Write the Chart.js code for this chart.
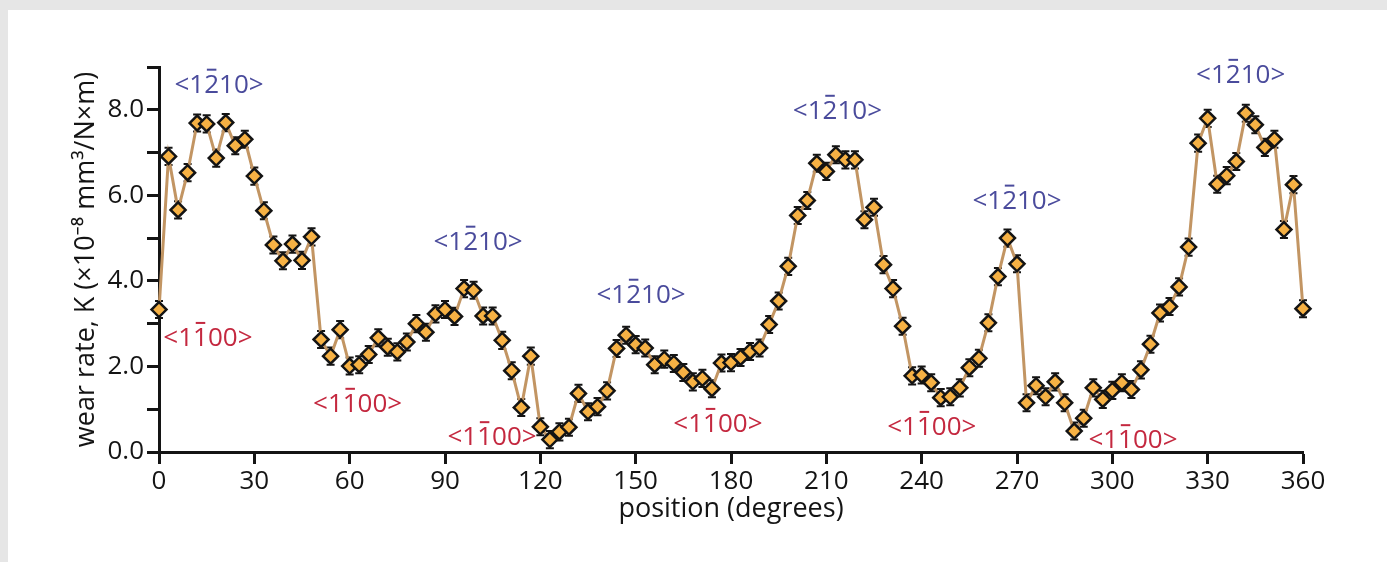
<!DOCTYPE html>
<html>
<head>
<meta charset="utf-8">
<script src="https://cdn.jsdelivr.net/npm/chart.js@4.4.1/dist/chart.umd.min.js"></script>
<style>
  html, body { margin: 0; padding: 0; }
  body { width: 1387px; height: 562px; background: #e6e6e6; position: relative; overflow: hidden; }
  #panel { position: absolute; left: 8px; top: 10px; right: 0; bottom: 0; background: #fff; }
  #wearChart { position: absolute; left: 0; top: 0; }
</style>
</head>
<body>
<div id="panel"></div>
<canvas id="wearChart" width="1387" height="562"></canvas>
<script>
/**
 * Wear rate vs. angular position
 */

// Angular positions (degrees)
const positions = [
  0, 3, 6, 9, 12, 15, 18, 21, 24, 27,
  30, 33, 36, 39, 42, 45, 48, 51, 54, 57,
  60, 63, 66, 69, 72, 75, 78, 81, 84, 87,
  90, 93, 96, 99, 102, 105, 108, 111, 114, 117,
  120, 123, 126, 129, 132, 135, 138, 141, 144, 147,
  150, 153, 156, 159, 162, 165, 168, 171, 174, 177,
  180, 183, 186, 189, 192, 195, 198, 201, 204, 207,
  210, 213, 216, 219, 222, 225, 228, 231, 234, 237,
  240, 243, 246, 249, 252, 255, 258, 261, 264, 267,
  270, 273, 276, 279, 282, 285, 288, 291, 294, 297,
  300, 303, 306, 309, 312, 315, 318, 321, 324, 327,
  330, 333, 336, 339, 342, 345, 348, 351, 354, 357,
  360
];

// Wear rate K (x10^-8 mm3/N·m)
const wearRate = [
  3.33, 6.91, 5.66, 6.53, 7.69, 7.67, 6.87, 7.70, 7.16, 7.31,
  6.45, 5.64, 4.84, 4.47, 4.86, 4.48, 5.03, 2.63, 2.24, 2.86,
  2.01, 2.04, 2.28, 2.67, 2.45, 2.34, 2.57, 3.00, 2.80, 3.23,
  3.33, 3.17, 3.82, 3.78, 3.18, 3.18, 2.61, 1.90, 1.04, 2.24,
  0.59, 0.29, 0.47, 0.58, 1.37, 0.94, 1.06, 1.43, 2.42, 2.73,
  2.51, 2.43, 2.04, 2.17, 2.07, 1.86, 1.64, 1.72, 1.48, 2.08,
  2.09, 2.21, 2.35, 2.43, 2.98, 3.53, 4.34, 5.53, 5.88, 6.75,
  6.56, 6.95, 6.83, 6.83, 5.43, 5.72, 4.38, 3.82, 2.94, 1.78,
  1.80, 1.62, 1.27, 1.29, 1.50, 1.97, 2.19, 3.02, 4.10, 5.00,
  4.40, 1.15, 1.55, 1.29, 1.64, 1.15, 0.49, 0.79, 1.50, 1.23,
  1.44, 1.62, 1.46, 1.92, 2.52, 3.25, 3.40, 3.86, 4.79, 7.22,
  7.80, 6.26, 6.46, 6.79, 7.92, 7.65, 7.12, 7.31, 5.20, 6.25,
  3.35
];

// Error bar half height (same for every point)
const wearError = 0.2;

// Axis ticks
const xTicks = [0, 30, 60, 90, 120, 150, 180, 210, 240, 270, 300, 330, 360];
const yTicks = [0, 1, 2, 3, 4, 5, 6, 7, 8, 9];

// Direction labels: [position, wear rate] of label centre
const blueLabelPos = [[18.9, 8.61], [100.4, 4.94], [151.7, 3.70], [213.5, 8.0], [270.0, 5.9], [340.4, 8.84]];
const redLabelPos = [[15.4, 2.69], [62.5, 1.15], [104.8, 0.37], [175.9, 0.68], [243.2, 0.61], [306.5, 0.30]];

const COLORS = {
  line: '#c29563',
  marker: '#f6b144',
  ink: '#141414',
  blue: '#4a4b9c',
  red: '#c4283f'
};
const FONT = '"Open Sans", "Noto Sans", sans-serif';

/**
 * Error bars (drawn under the line and markers)
 */
const errorBarPlugin = {
  id: 'errorBars',
  beforeDatasetsDraw(chart) {
    const { ctx, scales: { x, y } } = chart;
    ctx.save();
    ctx.strokeStyle = COLORS.ink;
    ctx.lineWidth = 2;
    positions.forEach((p, i) => {
      const px = x.getPixelForValue(p);
      const top = y.getPixelForValue(wearRate[i] + wearError);
      const bot = y.getPixelForValue(wearRate[i] - wearError);
      ctx.beginPath();
      ctx.moveTo(px, top);
      ctx.lineTo(px, bot);
      ctx.moveTo(px - 4, top);
      ctx.lineTo(px + 4, top);
      ctx.moveTo(px - 4, bot);
      ctx.lineTo(px + 4, bot);
      ctx.stroke();
    });
    ctx.restore();
  }
};

/**
 * Draw a Miller index label with an overbar on one digit
 */
function drawMillerLabel(ctx, px, py, text, barIndex, color) {
  const w = ctx.measureText(text).width;
  const left = px - w / 2;
  const base = py + 9;
  ctx.fillStyle = color;
  ctx.fillText(text, left, base);
  const pre = ctx.measureText(text.slice(0, barIndex)).width;
  const cw = ctx.measureText(text[barIndex]).width;
  ctx.fillRect(left + pre + cw * 0.18, base - 24, cw * 0.64, 2);
}

const directionLabelPlugin = {
  id: 'directionLabels',
  afterDatasetsDraw(chart) {
    const { ctx, scales: { x, y } } = chart;
    ctx.save();
    ctx.font = '26px ' + FONT;
    ctx.textAlign = 'left';
    ctx.textBaseline = 'alphabetic';
    blueLabelPos.forEach(([p, v]) => {
      drawMillerLabel(ctx, x.getPixelForValue(p), y.getPixelForValue(v), '<1210>', 2, COLORS.blue);
    });
    redLabelPos.forEach(([p, v]) => {
      drawMillerLabel(ctx, x.getPixelForValue(p), y.getPixelForValue(v), '<1100>', 2, COLORS.red);
    });
    ctx.restore();
  }
};

/**
 * Build chart
 */
const ctx = document.getElementById('wearChart').getContext('2d');

new Chart(ctx, {
  type: 'line',
  data: {
    datasets: [{
      data: positions.map((p, i) => ({ x: p, y: wearRate[i] })),
      borderColor: COLORS.line,
      borderWidth: 3,
      tension: 0,
      clip: false,
      pointStyle: 'rectRot',
      pointRadius: 7.5,
      pointBackgroundColor: COLORS.marker,
      pointBorderColor: COLORS.ink,
      pointBorderWidth: 2.5
    }]
  },
  options: {
    responsive: false,
    animation: false,
    devicePixelRatio: 1,
    layout: {
      padding: { left: 0, top: 67, right: 84, bottom: 0 }
    },
    plugins: {
      legend: { display: false },
      tooltip: { enabled: false }
    },
    scales: {
      x: {
        type: 'linear',
        min: 0,
        max: 360,
        afterFit: (scale) => { scale.height = 110; },
        afterBuildTicks: (scale) => { scale.ticks = xTicks.map(v => ({ value: v })); },
        ticks: {
          color: COLORS.ink,
          font: { family: FONT, size: 26 },
          padding: 2,
          maxRotation: 0
        },
        grid: {
          drawOnChartArea: false,
          drawTicks: true,
          tickLength: 12,
          tickWidth: 3,
          tickColor: COLORS.ink
        },
        border: { color: COLORS.ink, width: 3 },
        title: {
          display: true,
          text: 'position (degrees)',
          color: COLORS.ink,
          font: { family: FONT, size: 27 },
          padding: { top: 0, bottom: 36 }
        }
      },
      y: {
        min: 0,
        max: 9,
        afterFit: (scale) => { scale.width = 159; },
        afterBuildTicks: (scale) => { scale.ticks = yTicks.map(v => ({ value: v })); },
        ticks: {
          color: COLORS.ink,
          font: { family: FONT, size: 26 },
          padding: 3,
          callback: (v) => (v % 2 === 0 ? v.toFixed(1) : '')
        },
        grid: {
          drawOnChartArea: false,
          drawTicks: true,
          tickLength: 12,
          tickWidth: 3,
          tickColor: COLORS.ink
        },
        border: { color: COLORS.ink, width: 3 },
        title: {
          display: true,
          text: 'wear rate, K (×10⁻⁸ mm³/N×m)',
          color: COLORS.ink,
          font: { family: FONT, size: 27 },
          padding: { top: 70, bottom: 0 }
        }
      }
    }
  },
  plugins: [errorBarPlugin, directionLabelPlugin]
});
</script>
</body>
</html>
